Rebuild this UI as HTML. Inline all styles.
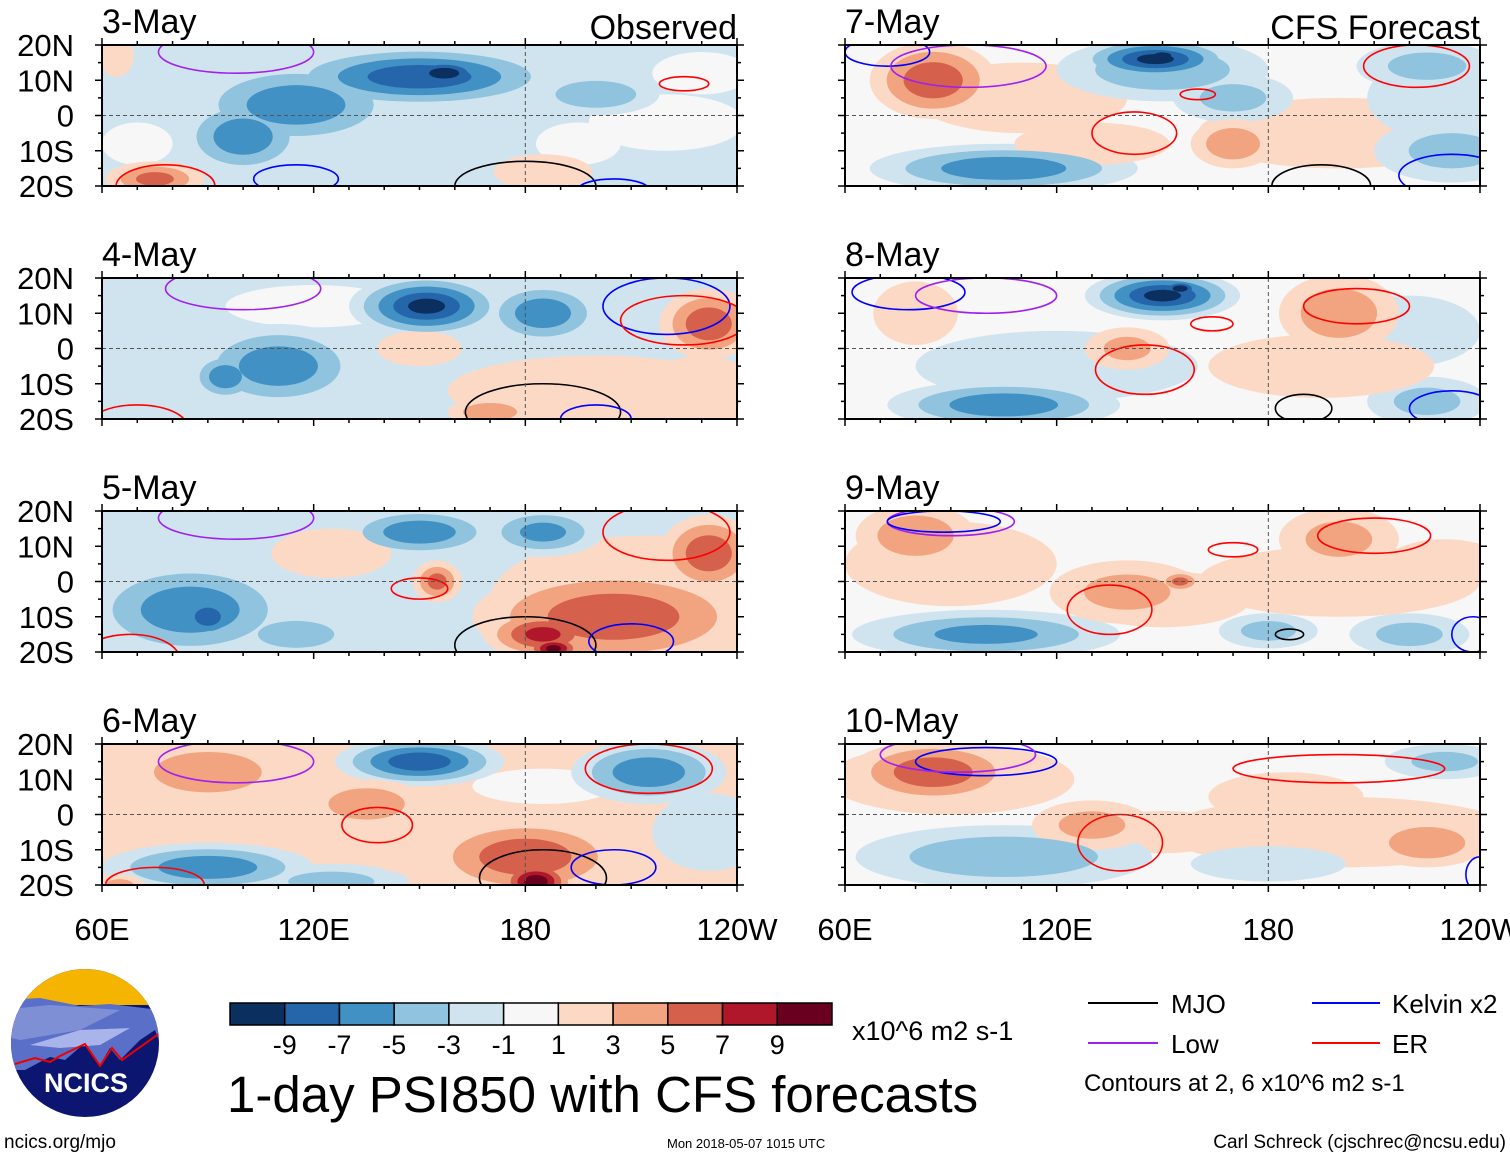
<!DOCTYPE html>
<html><head><meta charset="utf-8"><style>
body{margin:0;background:#fff;width:1510px;height:1158px;overflow:hidden;font-family:"Liberation Sans",sans-serif}
svg text{font-family:"Liberation Sans",sans-serif}
</style></head><body>
<svg id="s" width="1510" height="1158" xmlns="http://www.w3.org/2000/svg">
<defs id="defs"></defs>
<g id="panels"></g>
<g id="legend">
  <g>
    <clipPath id="logoclip"><circle cx="85" cy="1043" r="74"/></clipPath>
    <g clip-path="url(#logoclip)">
      <rect x="0" y="960" width="170" height="170" fill="#0c1670"/>
      <rect x="0" y="960" width="170" height="45" fill="#f4b400"/>
      <path d="M0 1000 L40 998 L80 1006 L110 1004 L160 1010 L170 1030 L170 1070 L155 1030 L140 1040 L120 1060 L110 1048 L100 1065 L85 1043 L65 1060 L50 1057 L40 1062 L25 1070 L0 1070 Z" fill="#5a6fc8"/>
      <path d="M0 1010 L50 1005 L120 1010 L80 1030 L20 1040 L0 1035 Z" fill="#7f8fd6"/>
      <path d="M30 1045 L80 1030 L130 1028 L100 1045 L60 1048 Z" fill="#a9b4ea"/>
      <path d="M15 1064 L35 1058 L50 1062 L60 1056 L85 1044 L100 1066 L112 1048 L122 1060 L160 1033" fill="none" stroke="#e00" stroke-width="2"/>
      <text x="86" y="1092" font-size="27" font-weight="bold" fill="#fff" text-anchor="middle">NCICS</text>
    </g>
  </g>
  <text x="4" y="1148" font-size="19">ncics.org/mjo</text>
  <g id="cbar"></g>
  <text x="852" y="1040" font-size="27">x10^6 m2 s-1</text>
  <text x="227" y="1112" font-size="51">1-day PSI850 with CFS forecasts</text>
  <text x="667" y="1148" font-size="13">Mon 2018-05-07 1015 UTC</text>
  <text x="1506" y="1148" font-size="19" text-anchor="end">Carl Schreck (cjschrec@ncsu.edu)</text>
  <g><line x1="1088" y1="1003" x2="1158" y2="1003" stroke="#000" stroke-width="2"/><text x="1171" y="1013" font-size="26">MJO</text></g>
  <g><line x1="1312" y1="1003" x2="1380" y2="1003" stroke="#00f" stroke-width="2"/><text x="1392" y="1013" font-size="26">Kelvin x2</text></g>
  <g><line x1="1088" y1="1043" x2="1158" y2="1043" stroke="#a020f0" stroke-width="2"/><text x="1171" y="1053" font-size="26">Low</text></g>
  <g><line x1="1312" y1="1043" x2="1380" y2="1043" stroke="#f00" stroke-width="2"/><text x="1392" y="1053" font-size="26">ER</text></g>
  <text x="1084" y="1091" font-size="24">Contours at 2, 6 x10^6 m2 s-1</text>
</g>
</svg>
<script>
const levelColors=["#0b2f5f","#2566ab","#4191c4","#90c3de","#d0e4f0","#f7f7f7","#fcd9c5","#f2a480","#d5604c","#b0172b","#690020"];
const cbarTicks=["-9","-7","-5","-3","-1","1","3","5","7","9"];
const panelTitles=["3-May","4-May","5-May","6-May","7-May","8-May","9-May","10-May"];
const latTicks=["20N","10N","0","10S","20S"];
const lonTicks=["60E","120E","180","120W"];
const panelBg=[-2,-2,-2,2,0,0,0,0];
// blobs: [lon, lat, rlon, rlat, value]
const blobs0=[[220,-2,22,8,0],[195,-8,12,6,0],[230,12,14,6,0],[70,-8,10,6,0],[115,3,30,12,-6],[100,-6,18,11,-6],[150,11,40,9,-8],[157,12,14,5,-10],[200,6,18,6,-4],[75,-18,14,5,5],[185,-16,14,5,2],[64,17,5,6,2]];
const blobs1=[[120,12,25,6,0],[200,-12,42,10,2],[230,-12,16,10,2],[152,12,22,9,-9],[185,10,17,9,-6],[110,-5,24,12,-6],[95,-8,10,7,-6],[232,7,14,10,6],[150,0,12,5,2],[170,-18,12,4,4]];
const blobs2=[[215,-5,45,18,2],[85,-8,30,14,-6],[90,-10,10,7,-8],[150,14,22,7,-6],[185,14,17,7,-5],[205,-10,40,14,6],[185,-15,17,7,7],[188,-19,9,4,9],[155,0,7,6,5],[232,8,14,11,6],[125,8,17,7,2],[115,-15,17,6,-4],[70,18,12,5,-2]];
const blobs3=[[175,-10,60,12,2],[150,15,24,7,-8],[215,12,22,9,-6],[90,12,24,9,4],[180,-12,28,11,6],[183,-19,11,6,10],[90,-15,30,7,-6],[125,-19,22,5,-3],[135,3,17,7,4],[150,-12,14,5,2],[232,-5,16,11,-2],[65,-20,7,3,3],[185,8,20,5,0]];
const blobs4=[[110,5,30,10,2],[200,-5,40,10,2],[230,5,22,12,-2],[150,13,30,9,-4],[148,16,22,6,-9],[150,17,8,3,-10],[85,10,18,11,6],[105,-15,38,7,-6],[225,14,20,7,-3],[170,5,17,7,-3],[232,-10,22,9,-3],[130,-8,22,6,2],[170,-8,12,7,4]];
const blobs5=[[120,-5,40,10,-2],[220,5,20,10,-2],[150,15,22,7,-9],[155,17,7,3,-10],[105,-16,33,7,-6],[200,10,17,11,4],[80,10,12,9,2],[140,0,12,6,3],[225,-15,17,7,-3],[195,-5,32,9,2],[70,-5,14,8,0]];
const blobs6=[[90,5,30,12,2],[200,0,40,10,2],[150,-5,25,8,2],[80,13,17,9,4],[100,-15,38,7,-5],[200,12,17,9,3],[140,-3,22,9,3],[155,0,6,3,5],[220,-15,17,6,-3],[180,-14,14,5,-3],[230,5,17,7,2],[120,12,17,6,0]];
const blobs7=[[90,10,35,10,2],[200,-5,50,10,2],[150,-5,20,6,2],[85,12,24,9,6],[105,-12,42,9,-4],[225,-8,17,7,4],[230,15,17,5,-3],[180,-14,22,5,-2],[130,-3,17,7,3],[185,5,22,7,2]];
const panelBlobs=[blobs0,blobs1,blobs2,blobs3,blobs4,blobs5,blobs6,blobs7];
// contours: [lon, lat, rlon, rlat, color]
const lines0=[[78,-20,14,6,"#f00"],[180,-20,20,7,"#000"],[115,-18,12,4,"#00f"],[98,18,22,6,"#a020f0"],[225,9,7,2,"#f00"],[205,-21,10,3,"#00f"]];
const lines1=[[70,-22,14,6,"#f00"],[185,-18,22,8,"#000"],[100,17,22,6,"#a020f0"],[220,12,18,8,"#00f"],[225,8,18,7,"#f00"],[200,-20,10,4,"#00f"]];
const lines2=[[68,-22,14,7,"#f00"],[180,-18,20,8,"#000"],[98,18,22,6,"#a020f0"],[150,-2,8,3,"#f00"],[220,14,18,8,"#f00"],[210,-17,12,5,"#00f"]];
const lines3=[[75,-20,14,5,"#f00"],[185,-18,18,8,"#000"],[98,15,22,6,"#a020f0"],[138,-3,10,5,"#f00"],[215,13,18,7,"#f00"],[205,-15,12,5,"#00f"]];
const lines4=[[72,18,12,4,"#00f"],[95,14,22,6,"#a020f0"],[142,-5,12,6,"#f00"],[195,-20,14,6,"#000"],[222,14,15,6,"#f00"],[160,6,5,1.5,"#f00"],[232,-17,15,6,"#00f"]];
const lines5=[[78,16,16,5,"#00f"],[100,15,20,5,"#a020f0"],[145,-6,14,7,"#f00"],[164,7,6,2,"#f00"],[205,12,15,5,"#f00"],[190,-17,8,4,"#000"],[232,-17,12,5,"#00f"]];
const lines6=[[90,17,18,4,"#a020f0"],[88,17,16,3,"#00f"],[135,-8,12,7,"#f00"],[170,9,7,2,"#f00"],[210,13,16,5,"#f00"],[186,-15,4,1.5,"#000"],[238,-15,6,5,"#00f"]];
const lines7=[[100,15,20,4,"#00f"],[92,17,22,5,"#a020f0"],[138,-8,12,8,"#f00"],[200,13,30,4,"#f00"],[240,-17,4,5,"#00f"]];
const panelLines=[lines0,lines1,lines2,lines3,lines4,lines5,lines6,lines7];

const NS="http://www.w3.org/2000/svg";
function mk(tag,attrs,parent){const e=document.createElementNS(NS,tag);for(const k in attrs)e.setAttribute(k,attrs[k]);parent.appendChild(e);return e;}
function colorFor(v){let i=Math.floor((v+11)/2);if(v>=-1&&v<=1)i=5;return levelColors[Math.max(0,Math.min(10,i))];}
const PW=635,PH=141;
const panelPos=[[102,45],[102,278],[102,511],[102,744],[845,45],[845,278],[845,511],[845,744]];
const panelsG=document.getElementById('panels');
const defs=document.getElementById('defs');
panelPos.forEach((p,pi)=>{
  const [px,py]=p;
  const xs=lon=>px+(lon-60)/180*PW;
  const ys=lat=>py+PH/2-lat/40*PH;
  const g=mk('g',{},panelsG);
  
  
  const cp=mk('clipPath',{id:'cp'+pi},defs);
  mk('rect',{x:px,y:py,width:PW,height:PH},cp);
  const field=mk('g',{'clip-path':'url(#cp'+pi+')'},g);
  mk('rect',{x:px,y:py,width:PW,height:PH,fill:colorFor(panelBg[pi])},field);
  const shapes=[];
  panelBlobs[pi].forEach(b=>{
    const [lon,lat,rl,rt,v]=b;const a=Math.abs(v);const sgn=v<0?-1:1;
    if(a<1){shapes.push({lon,lat,rl,rt,lev:0,f:1});}
    else{for(let l=1;l<=a;l+=2){shapes.push({lon,lat,rl,rt,lev:sgn*(l+1),f:1-(l-1)/(a+1.5)});}}
  });
  shapes.sort((a,b)=>Math.abs(a.lev)-Math.abs(b.lev));
  shapes.forEach(s=>{
    const e=mk('ellipse',{cx:xs(s.lon),cy:ys(s.lat),rx:s.rl*s.f*PW/180,ry:s.rt*s.f*PH/40,fill:colorFor(s.lev)},field);
    
    
  });
  panelLines[pi].forEach(c=>{
    const e=mk('ellipse',{cx:xs(c[0]),cy:ys(c[1]),rx:c[2]*PW/180,ry:c[3]*PH/40,fill:'none',stroke:c[4],'stroke-width':1.6},field);
    
    
  });
  mk('line',{x1:px,y1:ys(0),x2:px+PW,y2:ys(0),stroke:'#555','stroke-dasharray':'4,3','stroke-width':1},g);
  mk('line',{x1:xs(180),y1:py,x2:xs(180),y2:py+PH,stroke:'#555','stroke-dasharray':'4,3','stroke-width':1},g);
  const fr=mk('rect',{x:px,y:py,width:PW,height:PH,fill:'none',stroke:'#000','stroke-width':2},g);
  
  
  for(let lon=60;lon<=240;lon+=10){const L=(lon%60==0)?7:4;
    mk('line',{x1:xs(lon),y1:py,x2:xs(lon),y2:py-L,stroke:'#000','stroke-width':1.5},g);
    mk('line',{x1:xs(lon),y1:py+PH,x2:xs(lon),y2:py+PH+L,stroke:'#000','stroke-width':1.5},g);}
  for(let lat=-20;lat<=20;lat+=5){const L=(lat%10==0)?7:4;
    mk('line',{x1:px,y1:ys(lat),x2:px-L,y2:ys(lat),stroke:'#000','stroke-width':1.5},g);
    mk('line',{x1:px+PW,y1:ys(lat),x2:px+PW+L,y2:ys(lat),stroke:'#000','stroke-width':1.5},g);}
  const t=mk('text',{x:px,y:py-12,'font-size':34},g);t.textContent=panelTitles[pi];
  
  
  if(pi==0){const o=mk('text',{x:px+PW,y:py-6,'font-size':34,'text-anchor':'end'},g);o.textContent='Observed';
    
    }
  if(pi==4){const o=mk('text',{x:px+PW,y:py-6,'font-size':34,'text-anchor':'end'},g);o.textContent='CFS Forecast';
    
    }
  if(pi<4){latTicks.forEach((lt,i)=>{const tt=mk('text',{x:74,y:ys(20-i*10)+11,'font-size':31,'text-anchor':'end'},g);tt.textContent=lt;
    
    });}
  if(pi==3||pi==7){lonTicks.forEach((lt,i)=>{const tt=mk('text',{x:xs(60+i*60),y:940,'font-size':31,'text-anchor':'middle'},g);tt.textContent=lt;
    
    });}
});
const cb=document.getElementById('cbar');
const cbX=230,cbW=602/11;
levelColors.forEach((c,i)=>{
  const r=mk('rect',{x:cbX+i*cbW,y:1003,width:cbW,height:22,fill:c,stroke:'#000','stroke-width':1.5},cb);
  
  
});
cbarTicks.forEach((t,i)=>{
  const tt=mk('text',{x:cbX+(i+1)*cbW,y:1054,'font-size':27,'text-anchor':'middle'},cb);tt.textContent=t;
  
  
});
</script>
</body></html>
